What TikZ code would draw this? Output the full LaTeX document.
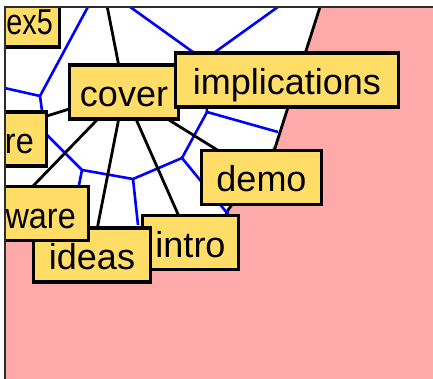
\documentclass[tikz,border=0pt]{standalone}
\usepackage{fontspec}
\setmainfont{Liberation Sans}
\newfontfamily\narrowa[FakeStretch=0.9]{Liberation Sans}
\newfontfamily\narrowb[FakeStretch=0.8]{Liberation Sans}
\definecolor{boxyellow}{RGB}{255,221,102}
\definecolor{bgpink}{RGB}{255,170,170}
\definecolor{framegray}{RGB}{45,45,45}
\pgfdeclarelayer{base}
\pgfdeclarelayer{lines}
\pgfsetlayers{base,lines,main}
\begin{document}
\begin{tikzpicture}[x=1pt,y=-1pt,
  box/.style={draw=black,line width=3.2pt,fill=boxyellow,inner ysep=12.5pt,
    text height=29pt,text depth=0pt,font=\fontsize{36}{40}\selectfont},
  cbox/.style={box,inner xsep=0pt,minimum width=#1},
  lbox/.style={box,inner xsep=#1,anchor=east},
  edge/.style={black,line width=2.8pt},
  cell/.style={blue,line width=2.6pt,line join=round}]
\useasboundingbox (0,0) rectangle (433,379);
\begin{scope}
\clip (5,7) rectangle (433,379);
% boxes (drawn in stacking order)
\node[lbox=7pt] (ex5) at (61.4,20) {\hspace*{40pt}\narrowb ex5};
\node[lbox=13pt] (re) at (48.4,139) {\hspace*{40pt}\narrowa re};
\node[cbox=108.8pt] (cover) at (124,92) {cover};
\node[cbox=222.8pt] (impl) at (287,80) {implications};
\node[cbox=119.8pt] (demo) at (261.5,177.5) {demo};
\node[cbox=95.8pt] (intro) at (190.5,242.5) {intro};
\node[cbox=116.8pt] (ideas) at (92,255) {ideas};
\node[lbox=13pt] (ware) at (90.4,213.5) {\hspace*{40pt}\narrowa ware};
\end{scope}
% hidden ends and cell vertices
\coordinate (topE) at (100,-30);
\coordinate (reE) at (-24,138);
\coordinate (wareE) at (7,213);
\coordinate (V1) at (204,60);
\coordinate (E) at (207,112);
\coordinate (D) at (182,158);
\coordinate (B) at (133,179);
\coordinate (C) at (82,170);
\coordinate (J1) at (40,96);
\coordinate (R) at (45,133);
\coordinate (t1) at (126,4);
\coordinate (t2) at (282,4);
\coordinate (t3) at (90,3);
\coordinate (lft) at (0,87);
\coordinate (bnd) at (278,132);
\coordinate (dI) at (232,219);
\coordinate (bI) at (138,225);
\coordinate (cW) at (76,200);
\begin{pgfonlayer}{base}
\fill[white] (0,0) rectangle (433,379);
\fill[bgpink] (5,7) rectangle (433,379);
\fill[white] (5,7) -- (320,7) -- (275,148) -- (228,210) -- (220,230) -- (130,250) -- (5,240) -- cycle;
\end{pgfonlayer}
\begin{pgfonlayer}{lines}
\begin{scope}
\clip (5,7) rectangle (433,379);
\draw[edge] (320,7) -- (275,148) -- (228,210) -- (220,230);
\draw[cell] (t3) -- (J1) -- (lft);
\draw[cell] (J1) -- (R) -- (C);
\draw[cell] (t1) -- (V1) -- (t2);
\draw[cell] (V1) -- (E) -- (bnd);
\draw[cell] (E) -- (D) -- (B) -- (C) -- (cW);
\draw[cell] (D) -- (dI);
\draw[cell] (B) -- (bI);
\draw[edge] (cover.center) -- (topE);
\draw[edge] (cover.center) -- (reE);
\draw[edge] (cover.center) -- (wareE);
\draw[edge] (cover.center) -- (ideas.center);
\draw[edge] (cover.center) -- (intro.center);
\draw[edge] (cover.center) -- (demo.center);
\end{scope}
\end{pgfonlayer}
\draw[framegray,line width=2.4pt] (5.2,379) -- (5.2,7.2) -- (433,7.2);
\end{tikzpicture}
\end{document}
